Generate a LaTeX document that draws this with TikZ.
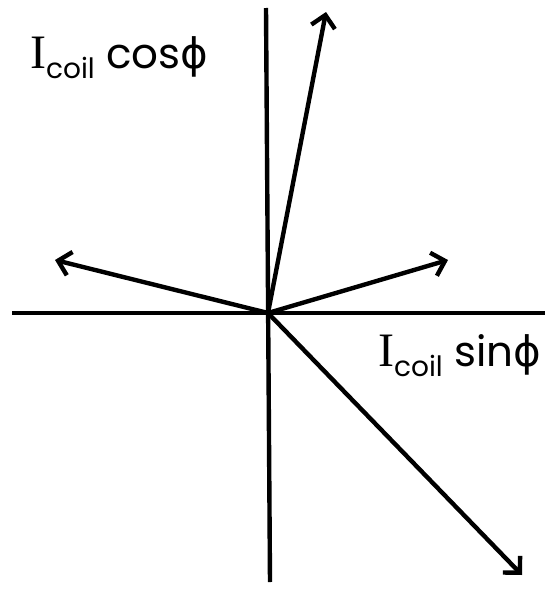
\documentclass[tikz,border=0pt]{standalone}
\usepackage{fontspec}
\setmainfont{Poppins}
\newfontfamily\serifI{Liberation Serif}
\newfontfamily\greekphi{DejaVu Sans}
\usetikzlibrary{arrows.meta}

\newcommand{\Icoil}{{\serifI\fontsize{48}{52}\selectfont I}\raisebox{-0.45ex}{\fontsize{28}{31}\selectfont coil}}

\tikzset{
  axisline/.style={line width=4.4pt},
  phasor/.style={line width=4.4pt, line cap=round, line join=round,
    -{Straight Barb[length=12pt, width=24pt, line width=4.4pt]}},
  compname/.style={anchor=base west, inner sep=0pt, font=\fontsize{42}{46}\selectfont}
}

\begin{document}
\begin{tikzpicture}[x=1pt,y=-1pt]
  \useasboundingbox (0,0) rectangle (545,589);

  % axes
  \coordinate (O) at (268,313);
  \coordinate (vtop) at (266,8);
  \coordinate (vbot) at (270,582);
  \coordinate (hleft) at (12,313);
  \coordinate (hright) at (545,313);
  \draw[axisline] (vtop) -- (vbot);
  \draw[axisline] (hleft) -- (hright);

  % phasors
  \coordinate (pup) at (326,12);
  \coordinate (pleft) at (55,260);
  \coordinate (pright) at (448,260);
  \coordinate (pdown) at (522,575);
  \draw[phasor] (O) -- (pup);
  \draw[phasor] (O) -- (pleft);
  \draw[phasor] (O) -- (pright);
  \draw[phasor] (O) -- (pdown);

  % labels
  \node[compname] (lcos) at (30,68) {\Icoil\ cos{\greekphi ϕ}};
  \node[compname] (lsin) at (378,366) {\Icoil\ sin{\greekphi ϕ}};
\end{tikzpicture}
\end{document}
